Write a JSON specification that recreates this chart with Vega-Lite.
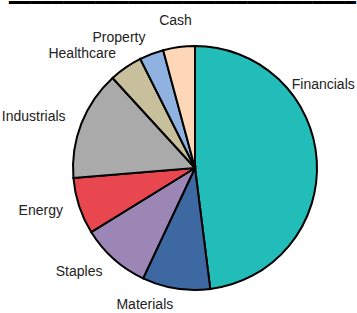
{
  "$schema": "https://vega.github.io/schema/vega-lite/v6.json",
  "width": 324,
  "height": 290,
  "autosize": {"type": "none"},
  "padding": {"left": 33, "top": 23, "right": 0, "bottom": 0},
  "background": "white",
  "title": {
    "text": "Top Sectors (Summary)",
    "subtitle": "━━━━━━━━━━━━━━━━━━━━━━━━━━━━━━━━",
    "anchor": "start",
    "frame": "group",
    "font": "Liberation Sans",
    "fontSize": 20,
    "fontWeight": "bold",
    "subtitleFont": "DejaVu Sans",
    "subtitleFontSize": 18,
    "subtitleColor": "black",
    "subtitlePadding": -5,
    "offset": -66,
    "dx": -24
  },
  "config": {"view": {"stroke": null}},
  "data": {
    "values": [
      {"sector": "Financials", "weight": 48.0},
      {"sector": "Materials", "weight": 9.0},
      {"sector": "Staples", "weight": 9.2},
      {"sector": "Energy", "weight": 7.5},
      {"sector": "Industrials", "weight": 14.5},
      {"sector": "Healthcare", "weight": 4.4},
      {"sector": "Property", "weight": 3.2},
      {"sector": "Cash", "weight": 4.2}
    ]
  },
  "transform": [{"window": [{"op": "row_number", "as": "idx"}]}],
  "encoding": {
    "theta": {"field": "weight", "type": "quantitative", "stack": true},
    "order": {"field": "idx", "type": "quantitative"},
    "color": {
      "field": "sector",
      "type": "nominal",
      "scale": {
        "domain": ["Financials", "Materials", "Staples", "Energy", "Industrials", "Healthcare", "Property", "Cash"],
        "range": ["#22BDB9", "#3E68A2", "#9C86B6", "#E8474F", "#AAAAAA", "#C8C09C", "#8FB2E1", "#FDD7B8"]
      },
      "legend": null
    }
  },
  "layer": [
    {
      "mark": {"type": "arc", "outerRadius": 122, "stroke": "black", "strokeWidth": 2}
    },
    {
      "mark": {"type": "text", "radius": 139, "align": "right", "baseline": "middle", "font": "Liberation Sans", "fontSize": 14},
      "encoding": {
        "text": {"field": "sector"},
        "color": {"value": "#222222"},
        "opacity": {"condition": {"test": "datum.sector !== 'Cash' && datum.sector !== 'Financials'", "value": 1}, "value": 0}
      }
    },
    {
      "mark": {"type": "text", "radius": 148, "align": "center", "baseline": "middle", "font": "Liberation Sans", "fontSize": 14},
      "encoding": {
        "text": {"field": "sector"},
        "color": {"value": "#222222"},
        "opacity": {"condition": {"test": "datum.sector === 'Cash'", "value": 1}, "value": 0}
      }
    },
    {
      "mark": {"type": "text", "radius": 141, "align": "left", "baseline": "middle", "font": "Liberation Sans", "fontSize": 14, "dx": -44, "dy": -74},
      "encoding": {
        "text": {"field": "sector"},
        "color": {"value": "#222222"},
        "opacity": {"condition": {"test": "datum.sector === 'Financials'", "value": 1}, "value": 0}
      }
    }
  ]
}
